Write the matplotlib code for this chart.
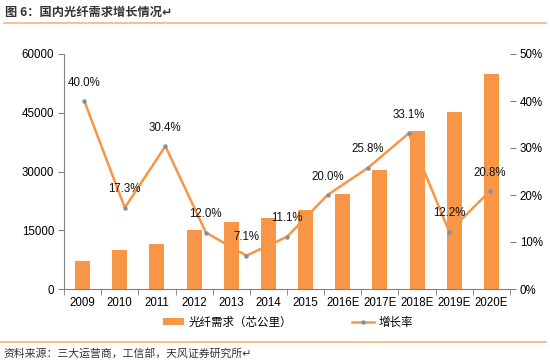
import matplotlib
matplotlib.use("Agg")
import matplotlib.pyplot as plt
from matplotlib.lines import Line2D
from matplotlib.patches import Patch
import numpy as np

plt.rcParams['font.family'] = ['Liberation Sans', 'Noto Sans CJK SC', 'DejaVu Sans']

categories = ['2009', '2010', '2011', '2012', '2013', '2014', '2015',
              '2016E', '2017E', '2018E', '2019E', '2020E']
demand = [7100, 10000, 11500, 15000, 17000, 18100, 20100,
          24200, 30400, 40300, 45300, 54800]
growth = [40.0, 17.3, 30.4, 12.0, 7.1, 11.1, 20.0, 25.8, 33.1, 12.2, 20.8]
growth_labels = ['40.0%', '17.3%', '30.4%', '12.0%', '7.1%', '11.1%',
                 '20.0%', '25.8%', '33.1%', '12.2%', '20.8%']
left_ticks = [0, 15000, 30000, 45000, 60000]
right_ticks = [0, 10, 20, 30, 40, 50]

W, H = 550, 363
fig = plt.figure(figsize=(W/100, H/100), dpi=100)
pos = [64/W, 1-289/H, (510-64)/W, (289-54)/H]

bar_color = '#F79646'
grey = '#808080'
cjk = ['Noto Sans CJK SC', 'DejaVu Sans']

ax = fig.add_axes(pos)
x = np.arange(len(categories))
ax.bar(x, demand, width=0.4, color=bar_color, zorder=2)
ax.set_xlim(-0.5, len(categories)-0.5)
ax.set_ylim(0, 60000)
ax.set_yticks(left_ticks)
ax.set_yticklabels([str(v) for v in left_ticks], fontsize=8.3)
ax.set_xticks(x)
ax.set_xticklabels(categories, fontsize=8.3)
ax.set_xticks(np.arange(-0.5, len(categories)), minor=True)
ax.tick_params(axis='x', which='major', length=0, pad=6)
ax.tick_params(axis='x', which='minor', length=4, color=grey, direction='out')
ax.tick_params(axis='y', length=4, color=grey, pad=3)
for s in ['top', 'right']:
    ax.spines[s].set_visible(False)
for s in ['left', 'bottom']:
    ax.spines[s].set_color(grey)
    ax.spines[s].set_linewidth(0.8)

# growth line on its own category axis (11 points)
ax2 = fig.add_axes(pos, frameon=False)
ax2.patch.set_visible(False)
xl = np.arange(len(growth))
ax2.plot(xl, growth, color=bar_color, lw=1.8, marker='o', markersize=2.2,
         markerfacecolor='#7F8FA6', markeredgecolor='#7F8FA6', zorder=3)
for xi, yi, lab in zip(xl, growth, growth_labels):
    ax2.annotate(lab, (xi, yi), xytext=(0, 9), textcoords='offset points',
                 ha='center', va='bottom', fontsize=8.3, color='#111111')
ax2.set_xlim(-0.5, len(growth)-0.5)
ax2.set_ylim(0, 50)
ax2.set_xticks([])
ax2.yaxis.tick_right()
ax2.set_yticks(right_ticks)
ax2.set_yticklabels([f'{v}%' for v in right_ticks], fontsize=8.3)
ax2.tick_params(axis='y', length=4, color=grey, pad=3)
ax2.spines['right'].set_visible(True)
ax2.spines['right'].set_color(grey)
ax2.spines['right'].set_linewidth(0.8)

# legend
handles = [Patch(facecolor=bar_color, edgecolor='none'),
           Line2D([0], [0], color=bar_color, lw=1.8, marker='o', markersize=2.2,
                  markerfacecolor='#7F8FA6', markeredgecolor='#7F8FA6')]
fig.legend(handles, ['光纤需求（芯公里）', '增长率'], loc='center',
           bbox_to_anchor=(288/W, 1-322/H), ncol=2, frameon=False,
           handlelength=1.9, handleheight=0.6, columnspacing=5.2,
           handletextpad=0.4, prop={'family': cjk, 'size': 8.3})

# title & source with orange rules
fig.text(5/W, 1-12/H, '图 6：国内光纤需求增长情况\u21b5', fontsize=8.8, fontweight='bold',
         va='center', ha='left', color='#333333', family=cjk)
fig.add_artist(Line2D([4/W, 546/W], [1-22.5/H, 1-22.5/H], color='#F9B27A', lw=1.2))
fig.add_artist(Line2D([0/W, 546/W], [1-342/H, 1-342/H], color='#F9B27A', lw=1.2))
fig.text(3/W, 1-353/H, '资料来源：三大运营商，工信部，天风证券研究所\u21b5', fontsize=7.8,
         va='center', ha='left', color='#333333', family=cjk)

fig.savefig('out.png', dpi=100)
